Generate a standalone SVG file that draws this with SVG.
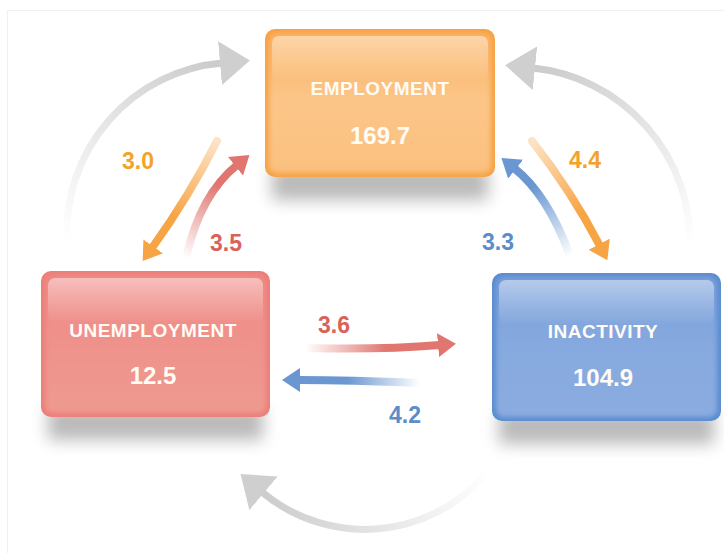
<svg xmlns="http://www.w3.org/2000/svg" width="724" height="553" viewBox="0 0 724 553">
<defs>
<style>
.t{font-family:"Liberation Sans",Arial,sans-serif;font-weight:bold;fill:#FFFBF5;text-anchor:middle}
.h{font-size:19px;letter-spacing:0.5px}
.v{font-size:24px}
.l{font-family:"Liberation Sans",Arial,sans-serif;font-weight:bold;font-size:23px;text-anchor:middle}
.arr{fill:none;stroke-width:8;stroke-linecap:round}
.garr{fill:none;stroke-width:7}
</style>
<filter id="shd" x="-30%" y="-100%" width="160%" height="300%"><feGaussianBlur stdDeviation="8"/></filter>
<filter id="soft" x="-10%" y="-10%" width="120%" height="120%"><feGaussianBlur stdDeviation="2.5"/></filter>
<linearGradient id="gloss" x1="0" y1="0" x2="0" y2="1"><stop offset="0" stop-color="#fff" stop-opacity="0.45"/><stop offset="1" stop-color="#fff" stop-opacity="0"/></linearGradient>
<linearGradient id="bodyE" x1="0" y1="0" x2="0" y2="1"><stop offset="0" stop-color="#FAB263"/><stop offset="0.5" stop-color="#FCC689"/><stop offset="1" stop-color="#FBC07E"/></linearGradient>
<linearGradient id="bodyU" x1="0" y1="0" x2="0" y2="1"><stop offset="0" stop-color="#EF8A85"/><stop offset="0.5" stop-color="#EF928B"/><stop offset="1" stop-color="#EE9A90"/></linearGradient>
<linearGradient id="bodyI" x1="0" y1="0" x2="0" y2="1"><stop offset="0" stop-color="#7AA0DA"/><stop offset="0.5" stop-color="#86A9DF"/><stop offset="1" stop-color="#8AACE0"/></linearGradient>
<clipPath id="cE"><rect x="265" y="29" width="230" height="148" rx="10"/></clipPath>
<clipPath id="cU"><rect x="41" y="271" width="229" height="146" rx="10"/></clipPath>
<clipPath id="cI"><rect x="492" y="273" width="229" height="148" rx="10"/></clipPath>
<linearGradient id="g30" gradientUnits="userSpaceOnUse" x1="217" y1="141" x2="152" y2="248"><stop offset="0" stop-color="#F7A445" stop-opacity="0.3"/><stop offset="0.7" stop-color="#F7A445"/></linearGradient>
<linearGradient id="g44" gradientUnits="userSpaceOnUse" x1="532" y1="141" x2="600" y2="246"><stop offset="0" stop-color="#F7A445" stop-opacity="0.3"/><stop offset="0.7" stop-color="#F7A445"/></linearGradient>
<linearGradient id="g35" gradientUnits="userSpaceOnUse" x1="186" y1="258" x2="237" y2="165"><stop offset="0" stop-color="#E0766F" stop-opacity="0"/><stop offset="0.75" stop-color="#E0766F"/></linearGradient>
<linearGradient id="g33" gradientUnits="userSpaceOnUse" x1="570" y1="256" x2="514" y2="168"><stop offset="0" stop-color="#6A96D1" stop-opacity="0"/><stop offset="0.75" stop-color="#6A96D1"/></linearGradient>
<linearGradient id="g36" gradientUnits="userSpaceOnUse" x1="305" y1="348" x2="440" y2="345"><stop offset="0" stop-color="#E0766F" stop-opacity="0"/><stop offset="0.6" stop-color="#E0766F"/></linearGradient>
<linearGradient id="g42" gradientUnits="userSpaceOnUse" x1="420" y1="383" x2="298" y2="380"><stop offset="0" stop-color="#6A96D1" stop-opacity="0"/><stop offset="0.6" stop-color="#6A96D1"/></linearGradient>
<linearGradient id="gtl" gradientUnits="userSpaceOnUse" x1="67" y1="240" x2="215" y2="66"><stop offset="0" stop-color="#CCCCCC" stop-opacity="0"/><stop offset="1" stop-color="#CCCCCC"/></linearGradient>
<linearGradient id="gtr" gradientUnits="userSpaceOnUse" x1="690" y1="247" x2="540" y2="70"><stop offset="0" stop-color="#CCCCCC" stop-opacity="0"/><stop offset="1" stop-color="#CCCCCC"/></linearGradient>
<linearGradient id="gb" gradientUnits="userSpaceOnUse" x1="490" y1="470" x2="262" y2="492"><stop offset="0" stop-color="#CCCCCC" stop-opacity="0"/><stop offset="1" stop-color="#CCCCCC"/></linearGradient>
<linearGradient id="gh" x1="0" y1="0" x2="1" y2="0"><stop offset="0" stop-color="#E2E2E2"/><stop offset="1" stop-color="#C4C4C4"/></linearGradient>
<marker id="mo" markerUnits="userSpaceOnUse" viewBox="0 0 18 24" refX="2" refY="12" markerWidth="18" markerHeight="24" orient="auto"><path d="M0,0 L18,12 L0,24 Z" fill="#F7A445"/></marker>
<marker id="mr" markerUnits="userSpaceOnUse" viewBox="0 0 18 24" refX="2" refY="12" markerWidth="18" markerHeight="24" orient="auto"><path d="M0,0 L18,12 L0,24 Z" fill="#E0766F"/></marker>
<marker id="mb" markerUnits="userSpaceOnUse" viewBox="0 0 18 24" refX="2" refY="12" markerWidth="18" markerHeight="24" orient="auto"><path d="M0,0 L18,12 L0,24 Z" fill="#6A96D1"/></marker>
<marker id="mg" markerUnits="userSpaceOnUse" viewBox="0 0 30 44" refX="2" refY="22" markerWidth="30" markerHeight="44" orient="auto"><path d="M0,0 L30,22 L0,44 Z" fill="#CFCFCF"/></marker>
</defs>
<rect x="0" y="0" width="724" height="553" fill="#fff"/>
<rect x="7.5" y="10.5" width="730" height="560" fill="none" stroke="#F0F0F0"/>

<g id="connectors">
<path class="garr" d="M67,240 A170,170 0 0 1 222,63" stroke="url(#gtl)" marker-end="url(#mg)"/>
<path class="garr" d="M690,247 A175,175 0 0 0 533,68" stroke="url(#gtr)" marker-end="url(#mg)"/>
<path class="garr" d="M503,450 A160,160 0 0 1 262,492" stroke="url(#gb)" marker-end="url(#mg)"/>
<path class="arr" d="M217,141 Q190,195 152,248" stroke="url(#g30)" marker-end="url(#mo)"/>
<path class="arr" d="M186,258 Q200,195 237,165" stroke="url(#g35)" marker-end="url(#mr)"/>
<path class="arr" d="M570,256 Q548,195 514,168" stroke="url(#g33)" marker-end="url(#mb)"/>
<path class="arr" d="M532,141 Q572,192 600,246" stroke="url(#g44)" marker-end="url(#mo)"/>
<path class="arr" d="M305,348 Q380,350 440,345" stroke="url(#g36)" stroke-width="9" marker-end="url(#mr)"/>
<path class="arr" d="M420,383 Q350,380 298,380" stroke="url(#g42)" stroke-width="9" marker-end="url(#mb)"/>
<text class="l" x="138" y="169" fill="#F5A22D">3.0</text>
<text class="l" x="226" y="251" fill="#D9625A">3.5</text>
<text class="l" x="585" y="168" fill="#F5A22D">4.4</text>
<text class="l" x="498" y="250" fill="#5B8DCB">3.3</text>
<text class="l" x="334" y="333" fill="#D9625A">3.6</text>
<text class="l" x="405" y="423" fill="#5B8DCB">4.2</text>
</g>

<g id="employment">
<rect x="272" y="166" width="216" height="34" fill="#8C8C8C" opacity="0.6" filter="url(#shd)"/>
<g clip-path="url(#cE)">
<rect x="265" y="29" width="230" height="148" fill="#F6A245"/>
<rect x="269" y="33" width="222" height="140" rx="8" fill="url(#bodyE)" filter="url(#soft)"/>
<rect x="272" y="36" width="216" height="45" rx="7" fill="url(#gloss)"/>
</g>
<text class="t h" x="380" y="95">EMPLOYMENT</text>
<text class="t v" x="380" y="144">169.7</text>
</g>

<g id="unemployment">
<rect x="48" y="406" width="215" height="34" fill="#8C8C8C" opacity="0.6" filter="url(#shd)"/>
<g clip-path="url(#cU)">
<rect x="41" y="271" width="229" height="146" fill="#EC7E79"/>
<rect x="45" y="275" width="221" height="138" rx="8" fill="url(#bodyU)" filter="url(#soft)"/>
<rect x="48" y="278" width="215" height="45" rx="7" fill="url(#gloss)"/>
</g>
<text class="t h" x="153" y="337">UNEMPLOYMENT</text>
<text class="t v" x="153" y="384">12.5</text>
</g>

<g id="inactivity">
<rect x="499" y="410" width="215" height="34" fill="#8C8C8C" opacity="0.6" filter="url(#shd)"/>
<g clip-path="url(#cI)">
<rect x="492" y="273" width="229" height="148" fill="#5A8CCF"/>
<rect x="496" y="277" width="221" height="140" rx="8" fill="url(#bodyI)" filter="url(#soft)"/>
<rect x="499" y="280" width="215" height="45" rx="7" fill="url(#gloss)"/>
</g>
<text class="t h" x="603" y="338">INACTIVITY</text>
<text class="t v" x="603" y="386">104.9</text>
</g>
</svg>
